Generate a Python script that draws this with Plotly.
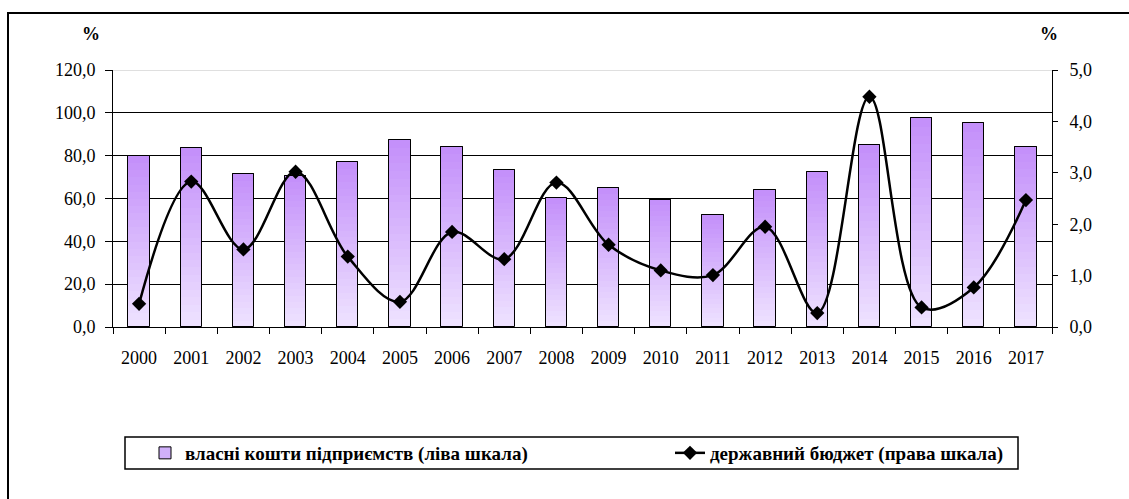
import plotly.graph_objects as go

years = [str(y) for y in range(2000, 2018)]
own_funds = [79.8, 83.4, 71.3, 70.5, 77.2, 87.3, 84.2, 73.3, 60.1, 64.8,
             59.3, 52.3, 64.0, 72.5, 85.0, 97.4, 95.1, 84.2]
state_budget = [0.45, 2.83, 1.51, 3.02, 1.37, 0.49, 1.85, 1.32, 2.81, 1.60,
                1.10, 1.01, 1.95, 0.27, 4.48, 0.38, 0.77, 2.47]
left_ticks = [0, 20, 40, 60, 80, 100, 120]
right_ticks = [0, 1, 2, 3, 4, 5]
name_bar = "власні кошти підприємств (ліва шкала)"
name_line = "державний бюджет (права шкала)"

W, H = 1129, 499
L, R, T, B = 113, 1052, 70, 327


def px(x):
    return (x - L) / (R - L)


def py(y):
    return (B - y) / (B - T)


def lerp(c1, c2, t):
    return "rgb(%d,%d,%d)" % tuple(round(a + (b - a) * t) for a, b in zip(c1, c2))


def fmt(v):
    return ("%.1f" % v).replace(".", ",")


top_c = (196, 144, 250)
bot_c = (238, 226, 255)
N = 24
BW = 0.41
font = "Liberation Serif"

fig = go.Figure()
# legend carrier (fully covered by the gradient bands below)
fig.add_trace(go.Bar(
    x=years, y=own_funds, width=BW, yaxis="y", legend="legend",
    marker=dict(color="rgb(208,176,250)", line=dict(color="black", width=1)),
    name="<b>" + name_bar + "</b>", showlegend=True, hoverinfo="skip"))
for k in range(N):
    frac = (N - k) / N
    fig.add_trace(go.Bar(
        x=years, y=[v * frac for v in own_funds], width=BW,
        marker=dict(color=lerp(top_c, bot_c, k / (N - 1)), line=dict(width=0)),
        showlegend=False, yaxis="y", hoverinfo="skip"))
fig.add_trace(go.Bar(
    x=years, y=own_funds, width=BW,
    marker=dict(color="rgba(0,0,0,0)", line=dict(color="black", width=1)),
    showlegend=False, yaxis="y", name=name_bar))

fig.add_trace(go.Scatter(
    x=years, y=state_budget, yaxis="y2", name="<b>" + name_line + "</b>",
    legend="legend2",
    mode="lines+markers", line=dict(color="black", width=2.5, shape="spline"),
    marker=dict(symbol="diamond", size=11, color="black")))

legfont = dict(family=font, size=19, color="black")
tickfont = dict(family=font, size=18, color="black")
fig.update_layout(
    width=W, height=H, barmode="overlay", bargap=0,
    margin=dict(l=L, r=W - R, t=T, b=H - B),
    paper_bgcolor="white", plot_bgcolor="white",
    font=dict(family=font, size=18, color="black"),
    xaxis=dict(type="category", range=[-0.5, 17.5], tickson="boundaries",
               ticks="outside", ticklen=6, automargin=False, tickfont=tickfont,
               tickcolor="black", showline=True, linecolor="black", linewidth=1,
               showgrid=False, ticklabelstandoff=14),
    yaxis=dict(range=[0, 120], tickvals=left_ticks, tickfont=tickfont,
               ticktext=[fmt(v) for v in left_ticks], automargin=False,
               ticks="outside", ticklen=7, tickcolor="black", showline=True,
               linecolor="black", linewidth=1, showgrid=True, gridcolor="black",
               gridwidth=1, zeroline=False, ticklabelstandoff=6),
    yaxis2=dict(range=[0, 5], tickvals=right_ticks, tickfont=tickfont,
                ticktext=[fmt(v) for v in right_ticks], automargin=False,
                overlaying="y", side="right", ticks="outside", ticklen=5,
                tickcolor="black", showline=True, linecolor="black", linewidth=1,
                showgrid=False, zeroline=False, ticklabelstandoff=8),
    legend=dict(orientation="h", x=px(145), xanchor="left", y=py(453),
                yanchor="middle", font=legfont, bgcolor="rgba(0,0,0,0)",
                itemwidth=30),
    legend2=dict(orientation="h", x=px(670), xanchor="left", y=py(453),
                 yanchor="middle", font=legfont, bgcolor="rgba(0,0,0,0)",
                 itemwidth=30),
    shapes=[
        dict(type="line", xref="paper", yref="y", x0=0, x1=1, y0=120, y1=120,
             line=dict(color="#c0c0c0", width=1)),
        dict(type="rect", xref="paper", yref="paper", x0=px(125), x1=px(1018),
             y0=py(469), y1=py(437), line=dict(color="black", width=1.5)),
        dict(type="rect", xref="paper", yref="paper", x0=px(8), x1=px(1140),
             y0=py(510), y1=py(13), line=dict(color="black", width=2)),
    ],
    annotations=[
        dict(text="<b>%</b>", xref="paper", yref="paper", x=px(91), y=py(34),
             xanchor="center", yanchor="middle",
             showarrow=False, font=dict(family=font, size=18)),
        dict(text="<b>%</b>", xref="paper", yref="paper", x=px(1049), y=py(34),
             xanchor="center", yanchor="middle",
             showarrow=False, font=dict(family=font, size=18)),
    ],
)
fig.write_html("out.html", config={"displayModeBar": False},
               post_script="document.body.style.margin='0';"
                           "document.body.style.padding='0';")
